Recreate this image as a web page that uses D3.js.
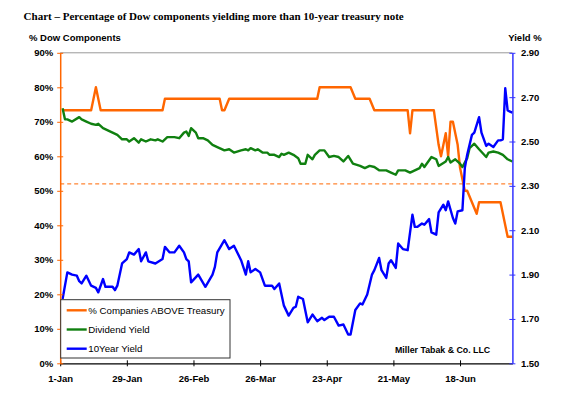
<!DOCTYPE html>
<html>
<head>
<meta charset="utf-8">
<script src="https://cdn.jsdelivr.net/npm/d3@7"></script>
<style>
  body { margin: 0; background: #fff; }
  svg text { font-family: Arial, "Liberation Sans", sans-serif; }
</style>
</head>
<body>
<svg width="569" height="398"></svg>
<script>
// % of Dow components yielding above the 10-year (left axis)
const pctAbove = [
  ["2013-01-02", 73.33], ["2013-01-14", 73.33], ["2013-01-16", 80], ["2013-01-18", 73.33],
  ["2013-02-13", 73.33], ["2013-02-14", 76.67], ["2013-03-09", 76.67], ["2013-03-10", 73.33],
  ["2013-03-11", 73.33], ["2013-03-13", 76.67], ["2013-04-19", 76.67], ["2013-04-20", 80],
  ["2013-05-03", 80], ["2013-05-05", 76.67], ["2013-05-11", 76.67], ["2013-05-13", 73.33],
  ["2013-05-27", 73.33], ["2013-05-28", 66.67], ["2013-05-29", 73.33], ["2013-06-07", 73.33],
  ["2013-06-09", 63.33], ["2013-06-10", 60], ["2013-06-12", 66.67], ["2013-06-13", 60],
  ["2013-06-14", 70], ["2013-06-15", 70], ["2013-06-17", 63.33], ["2013-06-18", 56.67],
  ["2013-06-19", 53.33], ["2013-06-20", 50], ["2013-06-21", 50], ["2013-06-23", 46.67],
  ["2013-06-25", 43.33], ["2013-06-26", 46.67], ["2013-07-05", 46.67], ["2013-07-08", 36.67],
  ["2013-07-10", 36.67]
];

// Dow dividend yield (right axis)
const dividendYield = [
  ["2013-01-02", 2.65], ["2013-01-03", 2.60], ["2013-01-04", 2.60], ["2013-01-06", 2.59],
  ["2013-01-09", 2.61], ["2013-01-10", 2.60], ["2013-01-12", 2.59], ["2013-01-14", 2.58],
  ["2013-01-16", 2.575], ["2013-01-17", 2.58], ["2013-01-19", 2.56], ["2013-01-21", 2.55],
  ["2013-01-23", 2.54], ["2013-01-25", 2.53], ["2013-01-27", 2.51], ["2013-01-29", 2.51],
  ["2013-01-30", 2.50], ["2013-02-01", 2.515], ["2013-02-03", 2.495], ["2013-02-04", 2.51],
  ["2013-02-06", 2.50], ["2013-02-08", 2.51], ["2013-02-10", 2.505], ["2013-02-11", 2.51],
  ["2013-02-13", 2.50], ["2013-02-15", 2.52], ["2013-02-18", 2.52], ["2013-02-20", 2.515],
  ["2013-02-22", 2.54], ["2013-02-23", 2.545], ["2013-02-24", 2.525], ["2013-02-25", 2.56],
  ["2013-02-27", 2.54], ["2013-02-28", 2.515], ["2013-03-02", 2.515], ["2013-03-04", 2.505],
  ["2013-03-06", 2.485], ["2013-03-08", 2.475], ["2013-03-11", 2.46], ["2013-03-13", 2.465],
  ["2013-03-15", 2.45], ["2013-03-18", 2.46], ["2013-03-20", 2.465], ["2013-03-21", 2.46],
  ["2013-03-22", 2.47], ["2013-03-24", 2.46], ["2013-03-25", 2.465], ["2013-03-27", 2.45],
  ["2013-03-29", 2.45], ["2013-03-30", 2.44], ["2013-04-01", 2.44], ["2013-04-03", 2.43],
  ["2013-04-04", 2.445], ["2013-04-05", 2.44], ["2013-04-07", 2.45], ["2013-04-09", 2.44],
  ["2013-04-11", 2.425], ["2013-04-12", 2.40], ["2013-04-14", 2.40], ["2013-04-15", 2.44],
  ["2013-04-17", 2.42], ["2013-04-18", 2.44], ["2013-04-20", 2.46], ["2013-04-22", 2.46],
  ["2013-04-24", 2.43], ["2013-04-26", 2.435], ["2013-04-28", 2.43], ["2013-04-30", 2.41],
  ["2013-05-02", 2.435], ["2013-05-04", 2.40], ["2013-05-07", 2.39], ["2013-05-09", 2.38],
  ["2013-05-11", 2.39], ["2013-05-13", 2.385], ["2013-05-15", 2.37], ["2013-05-18", 2.37],
  ["2013-05-20", 2.36], ["2013-05-22", 2.35], ["2013-05-23", 2.37], ["2013-05-26", 2.37],
  ["2013-05-28", 2.36], ["2013-05-30", 2.37], ["2013-06-01", 2.38], ["2013-06-02", 2.40],
  ["2013-06-03", 2.385], ["2013-06-06", 2.43], ["2013-06-08", 2.42], ["2013-06-09", 2.39],
  ["2013-06-12", 2.41], ["2013-06-13", 2.43], ["2013-06-14", 2.405], ["2013-06-16", 2.42],
  ["2013-06-18", 2.40], ["2013-06-19", 2.385], ["2013-06-21", 2.425], ["2013-06-22", 2.47],
  ["2013-06-24", 2.49], ["2013-06-26", 2.465], ["2013-06-29", 2.43], ["2013-06-30", 2.45],
  ["2013-07-02", 2.455], ["2013-07-04", 2.45], ["2013-07-06", 2.44], ["2013-07-08", 2.42],
  ["2013-07-10", 2.41]
];

// 10-year treasury yield (right axis)
const tenYear = [
  ["2013-01-02", 1.79], ["2013-01-04", 1.91], ["2013-01-06", 1.90], ["2013-01-08", 1.895],
  ["2013-01-09", 1.87], ["2013-01-10", 1.86], ["2013-01-12", 1.895], ["2013-01-14", 1.85],
  ["2013-01-16", 1.84], ["2013-01-17", 1.82], ["2013-01-19", 1.88], ["2013-01-20", 1.845],
  ["2013-01-23", 1.845], ["2013-01-24", 1.83], ["2013-01-25", 1.85], ["2013-01-27", 1.95],
  ["2013-01-29", 1.97], ["2013-01-30", 2.00], ["2013-02-01", 1.99], ["2013-02-03", 2.015],
  ["2013-02-04", 1.96], ["2013-02-06", 2.00], ["2013-02-07", 1.96], ["2013-02-10", 1.95],
  ["2013-02-13", 1.97], ["2013-02-14", 2.025], ["2013-02-16", 2.00], ["2013-02-18", 2.00],
  ["2013-02-20", 2.03], ["2013-02-22", 2.00], ["2013-02-23", 1.97], ["2013-02-24", 1.96],
  ["2013-02-25", 1.865], ["2013-02-28", 1.90], ["2013-03-03", 1.845], ["2013-03-06", 1.90],
  ["2013-03-07", 1.935], ["2013-03-08", 2.00], ["2013-03-11", 2.055], ["2013-03-13", 2.015],
  ["2013-03-15", 2.03], ["2013-03-18", 1.965], ["2013-03-20", 1.90], ["2013-03-21", 1.96],
  ["2013-03-22", 1.91], ["2013-03-24", 1.925], ["2013-03-26", 1.91], ["2013-03-28", 1.85],
  ["2013-03-31", 1.85], ["2013-04-01", 1.835], ["2013-04-03", 1.86], ["2013-04-05", 1.76],
  ["2013-04-07", 1.715], ["2013-04-09", 1.75], ["2013-04-10", 1.755], ["2013-04-11", 1.80],
  ["2013-04-13", 1.79], ["2013-04-15", 1.685], ["2013-04-17", 1.72], ["2013-04-19", 1.69],
  ["2013-04-21", 1.705], ["2013-04-22", 1.695], ["2013-04-24", 1.71], ["2013-04-26", 1.71],
  ["2013-04-28", 1.67], ["2013-04-30", 1.675], ["2013-05-02", 1.63], ["2013-05-03", 1.63],
  ["2013-05-05", 1.74], ["2013-05-07", 1.77], ["2013-05-08", 1.765], ["2013-05-10", 1.81],
  ["2013-05-12", 1.90], ["2013-05-13", 1.92], ["2013-05-15", 1.975], ["2013-05-16", 1.92],
  ["2013-05-18", 1.885], ["2013-05-19", 1.95], ["2013-05-20", 1.965], ["2013-05-22", 1.93],
  ["2013-05-23", 2.04], ["2013-05-25", 2.015], ["2013-05-27", 2.01], ["2013-05-29", 2.17],
  ["2013-05-30", 2.115], ["2013-05-31", 2.115], ["2013-06-02", 2.13], ["2013-06-03", 2.125],
  ["2013-06-05", 2.15], ["2013-06-06", 2.09], ["2013-06-08", 2.08], ["2013-06-09", 2.18],
  ["2013-06-11", 2.215], ["2013-06-12", 2.19], ["2013-06-13", 2.23], ["2013-06-15", 2.155],
  ["2013-06-16", 2.13], ["2013-06-17", 2.185], ["2013-06-19", 2.19], ["2013-06-20", 2.38],
  ["2013-06-21", 2.44], ["2013-06-23", 2.53], ["2013-06-24", 2.54], ["2013-06-26", 2.61],
  ["2013-06-27", 2.54], ["2013-06-29", 2.48], ["2013-06-30", 2.49], ["2013-07-02", 2.475],
  ["2013-07-04", 2.505], ["2013-07-05", 2.505], ["2013-07-06", 2.51], ["2013-07-07", 2.74],
  ["2013-07-08", 2.64], ["2013-07-09", 2.635], ["2013-07-10", 2.63]
];

const dateTicks = ["2013-01-01", "2013-01-29", "2013-02-26", "2013-03-26", "2013-04-23", "2013-05-21", "2013-06-18"];
const pctTicks = [0, 10, 20, 30, 40, 50, 60, 70, 80, 90];
const yieldTicks = [1.5, 1.7, 1.9, 2.1, 2.3, 2.5, 2.7, 2.9];
const refLevel = 52; // dashed reference line, left axis
const seriesNames = ["% Companies ABOVE Treasury", "Dividend Yield", "10Year Yield"];
const seriesColors = ["#ff6600", "#108010", "#0000ff"];

const parse = d3.timeParse("%Y-%m-%d");
const svg = d3.select("svg");

const margin = {top: 52.8, right: 56.6, bottom: 34.7, left: 60.2};
const width = +svg.attr("width") - margin.left - margin.right;
const height = +svg.attr("height") - margin.top - margin.bottom;
const g = svg.append("g").attr("transform", `translate(${margin.left},${margin.top})`);

const x = d3.scaleTime()
  .domain([parse("2013-01-01"), parse("2013-07-10")])
  .range([0, width]);
const yL = d3.scaleLinear().domain([0, 90]).range([height, 0]);
const yR = d3.scaleLinear().domain([1.5, 2.9]).range([height, 0]);

// titles
svg.append("text")
  .attr("x", 23.6).attr("y", 19.5)
  .style("font-family", "'Liberation Serif', 'Times New Roman', serif")
  .style("font-weight", "bold").style("font-size", "11px")
  .text("Chart \u2013 Percentage of Dow components yielding more than 10-year treasury note");
svg.append("text")
  .attr("x", 29).attr("y", 41)
  .style("font-weight", "bold").style("font-size", "9.5px")
  .text("% Dow Components");
svg.append("text")
  .attr("x", 541.7).attr("y", 41).attr("text-anchor", "end")
  .style("font-weight", "bold").style("font-size", "9.5px")
  .text("Yield %");

// top border of the plot area
g.append("line")
  .attr("x1", 0).attr("x2", width).attr("y1", 0).attr("y2", 0)
  .attr("stroke", "#999").attr("stroke-width", 1);

// dashed reference line
g.append("line")
  .attr("x1", 0).attr("x2", width)
  .attr("y1", yL(refLevel)).attr("y2", yL(refLevel))
  .attr("stroke", "#ff6600").attr("stroke-width", 1)
  .attr("stroke-dasharray", "4,3");

const lineL = d3.line().x(d => x(parse(d[0]))).y(d => yL(d[1]));
const lineR = d3.line().x(d => x(parse(d[0]))).y(d => yR(d[1]));

g.append("path").datum(pctAbove)
  .attr("fill", "none").attr("stroke", seriesColors[0])
  .attr("stroke-width", 2.4).attr("stroke-linejoin", "round")
  .attr("d", lineL);
g.append("path").datum(dividendYield)
  .attr("fill", "none").attr("stroke", seriesColors[1])
  .attr("stroke-width", 2.4).attr("stroke-linejoin", "round")
  .attr("d", lineR);
g.append("path").datum(tenYear)
  .attr("fill", "none").attr("stroke", seriesColors[2])
  .attr("stroke-width", 2.4).attr("stroke-linejoin", "round")
  .attr("d", lineR);

// axes
const xAxis = g.append("g")
  .attr("transform", `translate(0,${height})`)
  .call(d3.axisBottom(x)
    .tickValues(dateTicks.map(parse))
    .tickFormat(d3.timeFormat("%-d-%b"))
    .tickSizeInner(3).tickSizeOuter(0));
xAxis.select(".domain").attr("stroke", "#000").attr("stroke-width", 1.2);
xAxis.selectAll(".tick line").attr("y1", -3).attr("y2", 3).attr("stroke", "#000");
xAxis.selectAll(".tick text").attr("dy", null).attr("y", 18.7)
  .style("font-size", "9.5px").style("font-weight", "bold").attr("fill", "#000");

const leftAxis = g.append("g")
  .call(d3.axisLeft(yL)
    .tickValues(pctTicks)
    .tickFormat(d => d + "%")
    .tickSizeInner(3).tickSizeOuter(0).tickPadding(4));
leftAxis.select(".domain").attr("stroke", "#ff6600").attr("stroke-width", 1.5);
leftAxis.selectAll(".tick line").attr("x1", -3).attr("x2", 3).attr("stroke", "#ff6600");
leftAxis.selectAll(".tick text")
  .style("font-size", "9.5px").style("font-weight", "bold").attr("fill", "#000");

const rightAxis = g.append("g")
  .attr("transform", `translate(${width},0)`)
  .call(d3.axisRight(yR)
    .tickValues(yieldTicks)
    .tickFormat(d3.format(".2f"))
    .tickSizeInner(3).tickSizeOuter(0).tickPadding(5.5));
rightAxis.select(".domain").attr("stroke", "#3333ff").attr("stroke-width", 1.5);
rightAxis.selectAll(".tick line").attr("x1", -3).attr("x2", 3).attr("stroke", "#3333ff");
rightAxis.selectAll(".tick text")
  .style("font-size", "9.5px").style("font-weight", "bold").attr("fill", "#000");

// legend
const legend = svg.append("g").attr("transform", "translate(60.7,299.7)");
legend.append("rect")
  .attr("width", 169.3).attr("height", 58.3)
  .attr("fill", "#fff").attr("stroke", "#333").attr("stroke-width", 1);
const rows = legend.selectAll(".row").data(seriesNames)
  .enter().append("g")
    .attr("class", "row")
    .attr("transform", (d, i) => `translate(0,${10.6 + i * 19.2})`);
rows.append("line")
  .attr("x1", 6).attr("x2", 26)
  .attr("stroke", (d, i) => seriesColors[i]).attr("stroke-width", 2.4);
rows.append("text")
  .attr("x", 27.6).attr("dy", "0.35em")
  .style("font-size", "9.7px")
  .text(d => d);

// source note
svg.append("text")
  .attr("x", 395).attr("y", 353.2)
  .style("font-weight", "bold").style("font-size", "8.8px")
  .text("Miller Tabak & Co. LLC");
</script>
</body>
</html>
